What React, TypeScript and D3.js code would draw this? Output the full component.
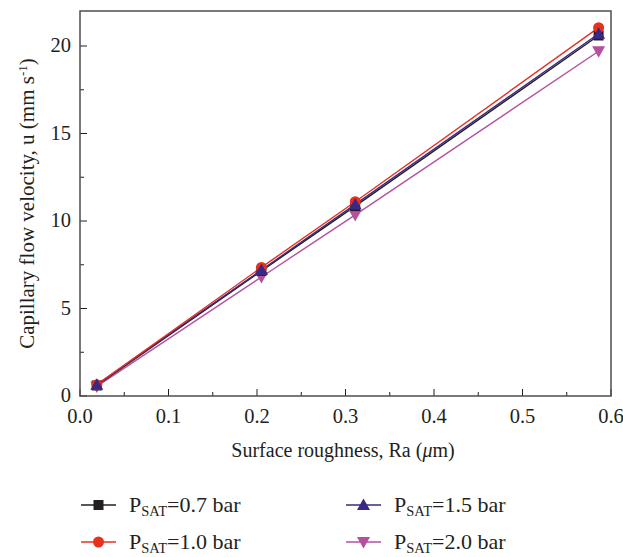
import React from "react";
import * as d3 from "d3";

const roughness = [0.019, 0.205, 0.311, 0.586];
const v07 = [0.6, 7.15, 10.85, 20.6];
const v10 = [0.65, 7.35, 11.1, 21.05];
const v15 = [0.65, 7.2, 10.95, 20.7];
const v20 = [0.55, 6.8, 10.35, 19.7];
const xTicks = [0, 0.1, 0.2, 0.3, 0.4, 0.5, 0.6];
const yTicks = [0, 5, 10, 15, 20];

const W = 623, H = 557;
const L = 80, R = 611, T = 11, B = 396;
const FONT = "'Liberation Serif', 'DejaVu Serif', serif";

const series = [
  { label: "0.7", values: v07, color: "#231f20", shape: "square" },
  { label: "1.0", values: v10, color: "#e8301f", shape: "circle" },
  { label: "1.5", values: v15, color: "#3b2884", shape: "up" },
  { label: "2.0", values: v20, color: "#b5509f", shape: "down" },
];

function Marker({ shape, x, y, color }: { shape: string; x: number; y: number; color: string }) {
  const s = 5.5;
  if (shape === "square") return <rect x={x - 5} y={y - 5} width={10} height={10} fill={color} />;
  if (shape === "circle") return <circle cx={x} cy={y} r={5.5} fill={color} />;
  if (shape === "up")
    return <path d={`M${x},${y - s - 1}L${x + s + 1},${y + s - 0.5}L${x - s - 1},${y + s - 0.5}Z`} fill={color} />;
  return <path d={`M${x},${y + s + 1}L${x + s + 1},${y - s + 0.5}L${x - s - 1},${y - s + 0.5}Z`} fill={color} />;
}

export default function App() {
  const x = d3.scaleLinear().domain([0, 0.6]).range([L, R]);
  const y = d3.scaleLinear().domain([0, 22]).range([B, T]);
  const line = d3
    .line<number>()
    .x((_, i) => x(roughness[i]))
    .y((d) => y(d));
  const xMinor = d3.range(0.05, 0.6, 0.1);
  const yMinor = d3.range(2.5, 22, 5);

  const legend = [
    { s: series[0], lx: 81, ly: 505 },
    { s: series[2], lx: 346, ly: 505 },
    { s: series[1], lx: 81, ly: 542 },
    { s: series[3], lx: 346, ly: 542 },
  ];

  return (
    <svg width={W} height={H} style={{ position: "absolute", left: 0, top: 0, background: "#fff" }}>
      <rect x={0} y={0} width={W} height={H} fill="#fff" />
      {xTicks.map((t) => (
        <line key={"xt" + t} x1={x(t)} x2={x(t)} y1={B} y2={B - 7} stroke="#231f20" strokeWidth={1} />
      ))}
      {xMinor.map((t) => (
        <line key={"xm" + t} x1={x(t)} x2={x(t)} y1={B} y2={B - 4} stroke="#231f20" strokeWidth={1} />
      ))}
      {yTicks.map((t) => (
        <line key={"yt" + t} x1={L} x2={L + 7} y1={y(t)} y2={y(t)} stroke="#231f20" strokeWidth={1} />
      ))}
      {yMinor.map((t) => (
        <line key={"ym" + t} x1={L} x2={L + 4} y1={y(t)} y2={y(t)} stroke="#231f20" strokeWidth={1} />
      ))}
      <rect x={L} y={T} width={R - L} height={B - T} fill="none" stroke="#4d4d4f" strokeWidth={1.5} />
      {xTicks.map((t) => (
        <text key={"xl" + t} x={x(t)} y={B + 27} textAnchor="middle" fontFamily={FONT} fontSize={20.5} fill="#231f20">
          {d3.format(".1f")(t)}
        </text>
      ))}
      {yTicks.map((t) => (
        <text key={"yl" + t} x={L - 9} y={y(t) + 6} textAnchor="end" fontFamily={FONT} fontSize={20.5} fill="#231f20">
          {t}
        </text>
      ))}
      <text x={343} y={B + 61} textAnchor="middle" fontFamily={FONT} fontSize={20} fill="#231f20">
        Surface roughness, Ra (<tspan fontStyle="italic">μ</tspan>m)
      </text>
      <text
        transform={`translate(34, ${(T + B) / 2}) rotate(-90)`}
        textAnchor="middle"
        fontFamily={FONT}
        fontSize={21}
        fill="#231f20"
      >
        Capillary flow velocity, u (mm s<tspan dy={-7} fontSize={13}>-1</tspan>
        <tspan dy={7}>)</tspan>
      </text>
      {[series[3], series[0], series[2], series[1]].map((s) => (
        <path key={"l" + s.label} d={line(s.values) || ""} fill="none" stroke={s.color} strokeWidth={1.4} />
      ))}
      {[series[3], series[0], series[1], series[2]].map((s) =>
        s.values.map((v, i) => (
          <Marker key={s.label + i} shape={s.shape} x={x(roughness[i])} y={y(v)} color={s.color} />
        ))
      )}
      {legend.map(({ s, lx, ly }) => (
        <g key={"lg" + s.label}>
          <line x1={lx} x2={lx + 35} y1={ly} y2={ly} stroke={s.color} strokeWidth={1.4} />
          <Marker shape={s.shape} x={lx + 17.5} y={ly} color={s.color} />
          <text x={lx + 48} y={ly + 7} fontFamily={FONT} fontSize={22} fill="#231f20">
            P<tspan dy={4} fontSize={14.5}>SAT</tspan>
            <tspan dy={-4}>={s.label} bar</tspan>
          </text>
        </g>
      ))}
    </svg>
  );
}
